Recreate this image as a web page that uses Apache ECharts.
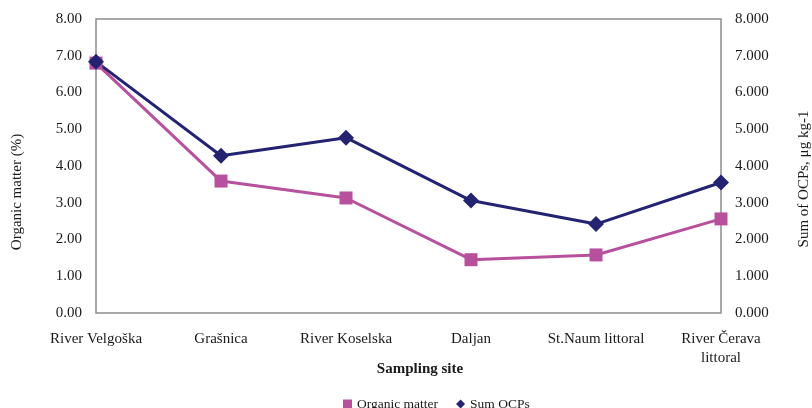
<!DOCTYPE html>
<html>
<head>
<meta charset="utf-8">
<script src="https://cdn.jsdelivr.net/npm/echarts@6/dist/echarts.min.js"></script>
<style>html,body{margin:0;padding:0;background:#fff;}#c{width:812px;height:408px;}</style>
</head>
<body>
<div id="c"></div>
<script>
const categories = ['River Velgoška', 'Grašnica', 'River Koselska', 'Daljan', 'St.Naum littoral', 'River Čerava\nlittoral'];
const organicMatter = [6.80, 3.59, 3.13, 1.45, 1.58, 2.56];
const sumOCPs = [6.84, 4.28, 4.77, 3.06, 2.42, 3.55];
const leftTicks = ['0.00','1.00','2.00','3.00','4.00','5.00','6.00','7.00','8.00'];
const rightTicks = ['0.000','1.000','2.000','3.000','4.000','5.000','6.000','7.000','8.000'];

const FONT = 'Liberation Serif, Times New Roman, serif';
const chart = echarts.init(document.getElementById('c'));
chart.setOption({
  animation: false,
  backgroundColor: '#fff',
  grid: { left: 96, right: 91, top: 19, bottom: 95, show: true, borderColor: '#8c8c8c', borderWidth: 1.5, containLabel: false },
  xAxis: {
    type: 'category', data: categories, boundaryGap: false,
    axisLine: { show: false }, axisTick: { show: false }, splitLine: { show: false },
    axisLabel: { interval: 0, margin: 17, fontFamily: FONT, fontSize: 15, color: '#1a1a1a', lineHeight: 19, verticalAlign: 'top' }
  },
  yAxis: [
    { type: 'value', min: 0, max: 8, interval: 1, position: 'left',
      axisLine: { show: false }, axisTick: { show: false }, splitLine: { show: false },
      axisLabel: { margin: 14, fontFamily: FONT, fontSize: 15, color: '#1a1a1a', formatter: (v) => leftTicks[Math.round(v)] } },
    { type: 'value', min: 0, max: 8, interval: 1, position: 'right',
      axisLine: { show: false }, axisTick: { show: false }, splitLine: { show: false },
      axisLabel: { margin: 14, fontFamily: FONT, fontSize: 15, color: '#1a1a1a', formatter: (v) => rightTicks[Math.round(v)] } }
  ],
  legend: {
    left: 338, top: 392, itemGap: 18, itemWidth: 9, itemHeight: 9,
    textStyle: { fontFamily: FONT, fontSize: 13.5, color: '#1a1a1a' },
    data: [ { name: 'Organic matter', icon: 'rect' }, { name: 'Sum OCPs', icon: 'diamond' } ]
  },
  graphic: [
    { type: 'text', x: 17, y: 192, rotation: Math.PI / 2, style: { text: 'Organic matter (%)', font: '15px ' + FONT, fill: '#1a1a1a', align: 'center', verticalAlign: 'middle' } },
    { type: 'text', x: 804, y: 179, rotation: Math.PI / 2, style: { text: 'Sum of OCPs, μg kg-1', font: '15px ' + FONT, fill: '#1a1a1a', align: 'center', verticalAlign: 'middle' } },
    { type: 'text', x: 420, y: 369, style: { text: 'Sampling site', font: 'bold 15px ' + FONT, fill: '#1a1a1a', align: 'center', verticalAlign: 'middle' } }
  ],
  series: [
    { name: 'Organic matter', type: 'line', data: organicMatter, yAxisIndex: 0,
      symbol: 'rect', symbolSize: 13, itemStyle: { color: '#b8519d' }, lineStyle: { color: '#b8519d', width: 3 } },
    { name: 'Sum OCPs', type: 'line', data: sumOCPs, yAxisIndex: 1,
      symbol: 'diamond', symbolSize: 16, itemStyle: { color: '#232372' }, lineStyle: { color: '#232372', width: 3 } }
  ]
});
</script>
</body>
</html>
